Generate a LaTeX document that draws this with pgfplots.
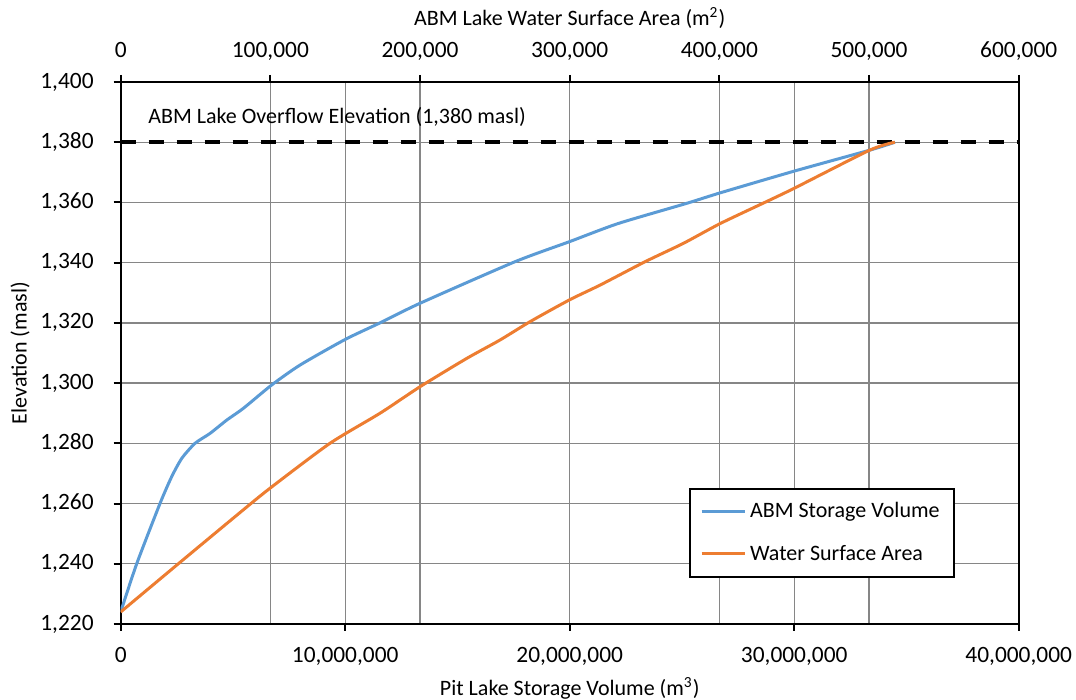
\documentclass[border=0pt]{standalone}
\usepackage{pgfplots}
\pgfplotsset{compat=1.18}
\usepackage{fontspec}
\setmainfont{Carlito}
\definecolor{cblue}{RGB}{91,155,213}
\definecolor{corange}{RGB}{237,125,49}
\definecolor{cgrid}{RGB}{134,134,134}
\newcommand\fs{\fontsize{11}{13}\selectfont}
\newcommand\ft{\fontsize{11.7}{14}\selectfont}
\begin{document}
\begin{tikzpicture}
\useasboundingbox (-60.35pt,-38pt) rectangle (477.65pt,312pt);
\pgfplotsset{
  base/.style={
    scale only axis, width=449pt, height=271pt,
    at={(0pt,0pt)}, anchor=south west,
    ymin=1220, ymax=1400,
    axis line style={black, line width=1pt},
    tick align=outside, major tick length=3.5pt,
    every tick/.style={black, line width=1pt},
    grid style={cgrid, line width=0.65pt},
    tick label style={font=\ft},
    label style={font=\fs},
    scaled x ticks=false, scaled y ticks=false,
    /pgf/number format/assume math mode=true,
  }}
% top axis: grid at 100,000 steps
\begin{axis}[base,
  xmin=0, xmax=600000,
  xtick={0,100000,200000,300000,400000,500000,600000},
  xticklabels={0,{100,000},{200,000},{300,000},{400,000},{500,000},{600,000}},
  xtick pos=right, xticklabel pos=right,
  xticklabel style={yshift=3.5pt, text height=1.5ex, text depth=0.4ex},
  ytick=\empty,
  xmajorgrids,
  xlabel={ABM Lake Water Surface Area (m\textsuperscript{2})},
  xlabel style={at={(axis description cs:0.5,1.118)}, anchor=center},
]
\end{axis}
% main axis
\begin{axis}[base,
  xmin=0, xmax=40000000,
  xtick={0,10000000,20000000,30000000,40000000},
  xticklabels={0,{10,000,000},{20,000,000},{30,000,000},{40,000,000}},
  xtick pos=left, xticklabel pos=left,
  xticklabel style={yshift=-5pt, text height=1.5ex, text depth=0.4ex},
  ytick={1220,1240,...,1400},
  ytick pos=left,
  yticklabel style={xshift=-6.5pt},
  xmajorgrids, ymajorgrids,
  xlabel={Pit Lake Storage Volume (m\textsuperscript{3})},
  xlabel style={at={(axis description cs:0.5,-0.118)}, anchor=center},
  ylabel={Elevation (masl)},
  ylabel style={at={(axis description cs:-0.112,0.5)}, anchor=center},
]
\addplot[cblue, line width=1.5pt, smooth, tension=0.4] coordinates {
(0,1224) (713000,1240) (1750000,1260) (2270000,1268.9)
(2720000,1275) (3310000,1280) (3980000,1283.3) (4720000,1287.7)
(5460000,1291.6) (6730000,1299.4)
(7990000,1306) (10000000,1314.5) (11550000,1320) (13330000,1326.5)
(17560000,1340.3) (20000000,1347) (22160000,1353) (25210000,1359.7)
(26710000,1363.2) (30000000,1370.4) (33380000,1377.4) (34490000,1380)
};
\addplot[black, line width=2pt, dash pattern=on 7.5pt off 6.5pt] coordinates {(0,1380) (40000000,1380)};
\node[anchor=west, inner sep=0pt, font=\fs] at (axis cs:1216000,1388.4) {ABM Lake Overflow Elevation (1,380 masl)};
\end{axis}
% orange series on top axis scale
\begin{axis}[base, hide axis,
  xmin=0, xmax=600000,
  legend style={at={(0.633,0.2515)}, anchor=north west, draw=black, line width=1pt,
    font=\fs, row sep=8pt, inner xsep=5pt, inner ysep=5pt},
  legend cell align=left,
  legend image code/.code={\draw[#1] (0pt,0pt) -- (21.5pt,0pt);},
]
\addlegendimage{cblue, line width=1.5pt}
\addlegendentry{ABM Storage Volume}
\addplot[corange, line width=1.5pt, smooth, tension=0.4] coordinates {
(0,1224) (38500,1240) (79700,1257) (99800,1265.1) (139800,1280)
(173300,1290) (200000,1298.8) (231200,1308.2)
(253400,1314.3) (273500,1320.4) (299700,1327.6) (320500,1332.6)
(350300,1340.3) (375900,1346.4) (400600,1353) (431600,1360.3)
(450000,1364.7) (500600,1377.4) (517300,1380)
};
\addlegendentry{Water Surface Area}
\end{axis}
\end{tikzpicture}
\end{document}
